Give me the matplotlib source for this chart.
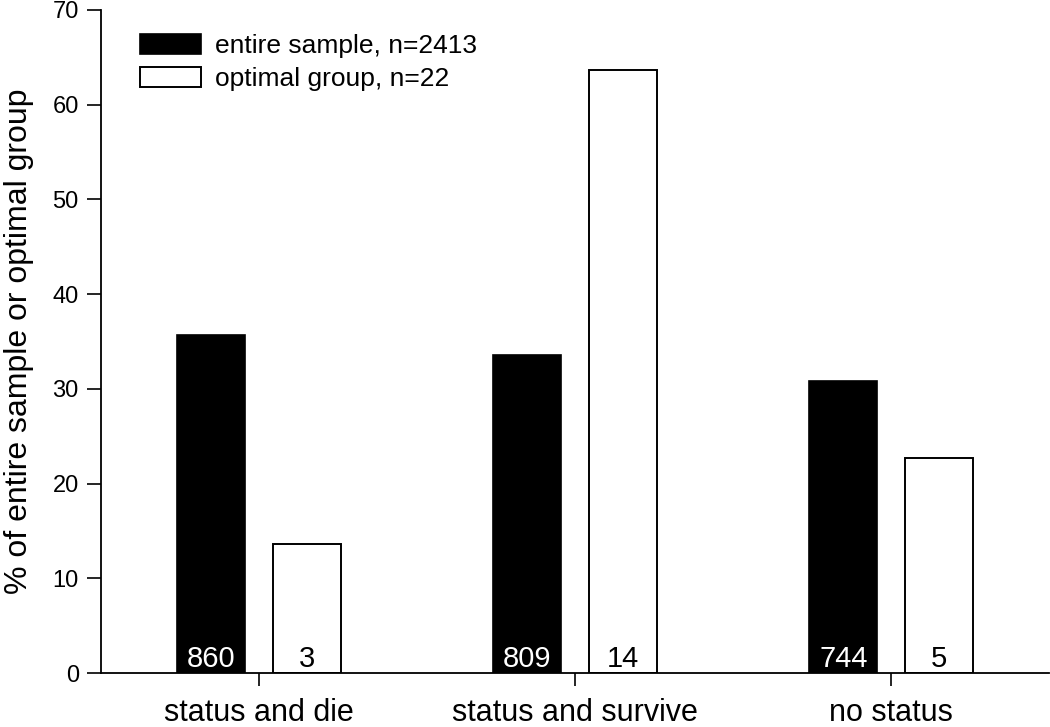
import numpy as np
import matplotlib
matplotlib.use('Agg')
import matplotlib.pyplot as plt

plt.rcParams['font.family'] = ['Liberation Sans', 'DejaVu Sans']

categories = ['status and die', 'status and survive', 'no status']
entire_counts = [860, 809, 744]
optimal_counts = [3, 14, 5]
n_entire = 2413
n_optimal = 22

entire_pct = [c / n_entire * 100 for c in entire_counts]
optimal_pct = [c / n_optimal * 100 for c in optimal_counts]

fig = plt.figure(figsize=(10.5, 7.27), dpi=100)
ax = fig.add_axes([101 / 1050, 54 / 727, 948 / 1050, 663 / 727])

x = np.arange(len(categories))
w = 0.215
off = 0.1505

ax.bar(x - off, entire_pct, w, color='black', edgecolor='black', linewidth=1.2,
       label='entire sample, n=%d' % n_entire)
ax.bar(x + off, optimal_pct, w, color='white', edgecolor='black', linewidth=1.4,
       label='optimal group, n=%d' % n_optimal)

# counts written at the foot of each bar
for i in range(len(categories)):
    ax.text(x[i] - off, 0.6, str(entire_counts[i]), color='white', fontsize=21,
            ha='center', va='baseline')
    ax.text(x[i] + off, 0.6, str(optimal_counts[i]), color='black', fontsize=21,
            ha='center', va='baseline')

ax.set_xlim(-0.5, 2.5)
ax.set_ylim(0, 70)
ax.set_yticks(np.arange(0, 71, 10))
ax.set_xticks(x)
ax.set_xticklabels(categories, fontsize=22)
ax.tick_params(axis='y', labelsize=17, length=10, width=1.2, direction='out', pad=6)
ax.tick_params(axis='x', length=9, width=1.2, direction='out', pad=9)

ax.spines['top'].set_visible(False)
ax.spines['right'].set_visible(False)
ax.spines['left'].set_linewidth(1.3)
ax.spines['bottom'].set_linewidth(1.3)

ax.set_ylabel('% of entire sample or optimal group', fontsize=23, labelpad=13)

ax.legend(loc='upper left', bbox_to_anchor=(140 / 1050, 1 - 34 / 727),
          bbox_transform=fig.transFigure, frameon=False, fontsize=19,
          handlelength=2.3, handleheight=0.76, handletextpad=0.55,
          labelspacing=0.34, borderpad=0, borderaxespad=0)

fig.savefig('out.png', dpi=100)
